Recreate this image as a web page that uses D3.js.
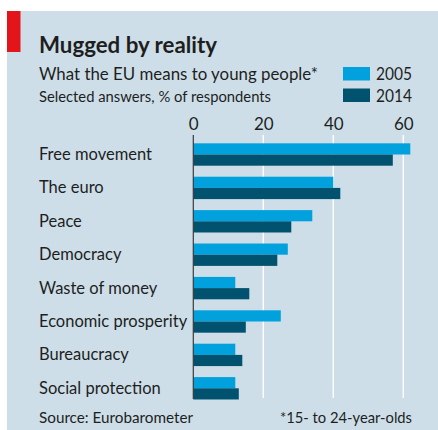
<!DOCTYPE html>
<html>
<head>
<meta charset="utf-8">
<script src="https://cdn.jsdelivr.net/npm/d3@7"></script>
<style>
  html, body { margin: 0; padding: 0; background: #fff; }
  svg { display: block; }
  text { font-family: Lato, "Noto Sans", sans-serif; fill: #1e1e1e; }
</style>
</head>
<body>
<svg id="chart" width="438" height="430"></svg>
<script>
// Data: share of young Europeans choosing each answer (%)
const categories = ["Free movement", "The euro", "Peace", "Democracy",
  "Waste of money", "Economic prosperity", "Bureaucracy", "Social protection"];
const years = ["2005", "2014"];
const values2005 = [62, 40, 34, 27, 12, 25, 12, 12];
const values2014 = [57, 42, 28, 24, 16, 15, 14, 13];
const xTicks = [0, 20, 40, 60];

const colors = { "2005": "#00a1dc", "2014": "#00526f" };
const rows = categories.map((c, i) => ({ cat: c, "2005": values2005[i], "2014": values2014[i] }));

const svg = d3.select("#chart");

// Panel background and red tag
svg.append("rect").attr("x", 7).attr("y", 11).attr("width", 431).attr("height", 419).attr("fill", "#cddee8");
svg.append("rect").attr("x", 7).attr("y", 11).attr("width", 13.5).attr("height", 41).attr("fill", "#e3151b");

// Headings
svg.append("text").attr("x", 39).attr("y", 53)
  .attr("font-size", 23).attr("font-weight", 700)
  .attr("textLength", 178).attr("lengthAdjust", "spacingAndGlyphs")
  .text("Mugged by reality");
svg.append("text").attr("x", 39).attr("y", 80)
  .attr("font-size", 17.5)
  .attr("textLength", 279).attr("lengthAdjust", "spacingAndGlyphs")
  .text("What the EU means to young people*");
svg.append("text").attr("x", 39).attr("y", 101.5)
  .attr("font-size", 15.5)
  .attr("textLength", 232).attr("lengthAdjust", "spacingAndGlyphs")
  .text("Selected answers, % of respondents");

// Legend
const legend = svg.append("g");
years.forEach((yr, i) => {
  const g = legend.append("g").attr("transform", `translate(343, ${67 + i * 21.5})`);
  g.append("rect").attr("width", 27).attr("height", 13.5).attr("fill", colors[yr]);
  g.append("text").attr("x", 33).attr("y", 13).attr("font-size", 17.5)
    .attr("textLength", 36).attr("lengthAdjust", "spacingAndGlyphs").text(yr);
});

// Scales
const x = d3.scaleLinear().domain([0, 60]).range([193.3, 403.3]);
const y = d3.scaleBand().domain(categories).range([132.3, 410.5]).paddingInner(0.33).paddingOuter(0.33);
const ySub = d3.scaleBand().domain(years).range([0, y.bandwidth()]);

const plotTop = 135, plotBottom = 399;

// Gridlines
svg.append("g").selectAll("line").data(xTicks.filter(t => t > 0)).join("line")
  .attr("x1", d => x(d)).attr("x2", d => x(d))
  .attr("y1", plotTop).attr("y2", plotBottom - 1)
  .attr("stroke", "#ffffff").attr("stroke-width", 1.4);

// Top axis labels
const axis = svg.append("g").attr("transform", `translate(0, ${plotTop})`)
  .call(d3.axisTop(x).tickValues(xTicks).tickSize(0).tickPadding(5));
axis.select(".domain").remove();
axis.selectAll("text").attr("font-size", 17).attr("fill", "#1e1e1e")
  .attr("font-family", "Lato, 'Noto Sans', sans-serif");

// Bars
const groups = svg.append("g").selectAll("g").data(rows).join("g")
  .attr("transform", d => `translate(0, ${y(d.cat)})`);
groups.selectAll("rect").data(d => years.map(yr => ({ yr, v: d[yr] }))).join("rect")
  .attr("x", x(0))
  .attr("y", d => ySub(d.yr))
  .attr("width", d => x(d.v) - x(0))
  .attr("height", ySub.bandwidth())
  .attr("fill", d => colors[d.yr]);

// Category labels
svg.append("g").selectAll("text").data(categories).join("text")
  .attr("x", 39)
  .attr("y", d => y(d) + y.bandwidth() / 2 + 5.5)
  .attr("font-size", 16.5)
  .text(d => d);

// Zero line
svg.append("line").attr("x1", x(0)).attr("x2", x(0))
  .attr("y1", plotTop).attr("y2", plotBottom)
  .attr("stroke", "#3a3a3a").attr("stroke-width", 1.2);

// Footer
svg.append("text").attr("x", 39).attr("y", 423).attr("font-size", 15)
  .attr("textLength", 154).attr("lengthAdjust", "spacingAndGlyphs")
  .text("Source: Eurobarometer");
svg.append("text").attr("x", 280).attr("y", 423).attr("font-size", 15)
  .attr("textLength", 132).attr("lengthAdjust", "spacingAndGlyphs")
  .text("*15- to 24-year-olds");
</script>
</body>
</html>
